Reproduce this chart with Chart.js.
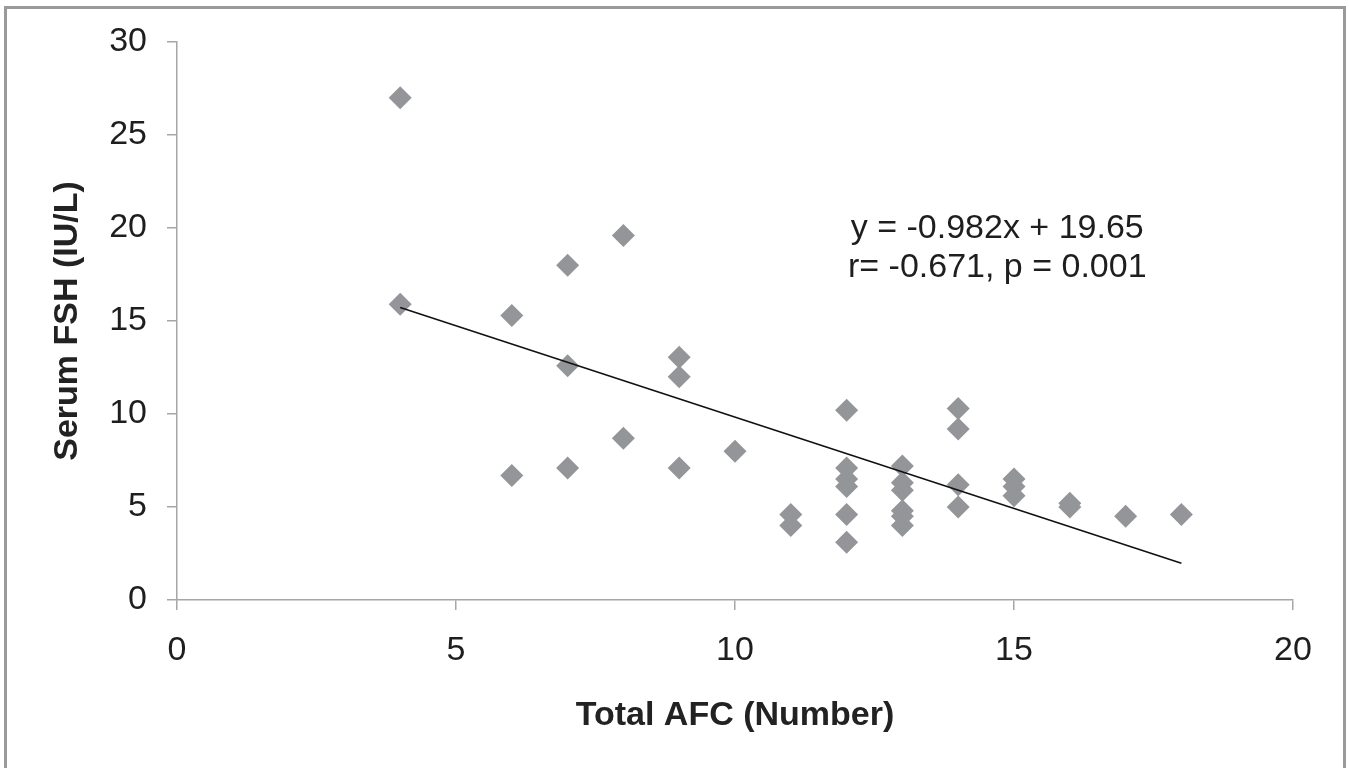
<!DOCTYPE html>
<html lang="en">

<head>
    <meta charset="UTF-8">
    <title>Serum FSH vs Total AFC</title>
    <script src="https://cdn.jsdelivr.net/npm/chart.js@4.4.1/dist/chart.umd.min.js"></script>
    <style>
        body {
            margin: 0;
            background: #fff;
        }
    </style>
</head>

<body>
    <canvas id="afcChart" width="1349" height="768"></canvas>
    <script>
        const afcValues = [4, 4, 6, 6, 7, 7, 7, 8, 8, 9, 9, 9, 10, 11, 11,
            12, 12, 12, 12, 12, 12, 13, 13, 13, 13, 13, 13,
            14, 14, 14, 14, 15, 15, 15, 16, 16, 17, 18];
        const fshValues = [27.0, 15.9, 15.3, 6.7, 18.0, 12.6, 7.1, 19.6, 8.7, 13.05, 12.0, 7.1, 8.0, 4.6, 4.0,
            10.2, 7.1, 6.5, 6.1, 4.6, 3.1, 7.2, 6.3, 5.9, 4.8, 4.5, 4.0,
            10.3, 9.2, 6.2, 5.0, 6.5, 6.1, 5.6, 5.2, 5.0, 4.5, 4.6];

        // Regression line end points (y = -0.982x + 19.65)
        const trendX = [4, 18];
        const trendY = [15.72, 1.97];

        const xTicks = [0, 5, 10, 15, 20];
        const yTicks = [0, 5, 10, 15, 20, 25, 30];

        const statsText = ['y = -0.982x + 19.65', 'r= -0.671, p = 0.001'];
        const statsAt = { x: 14.7, y: [19.95, 17.85] };

        const axisGray = '#a6a6a6';
        const textColor = '#1e1e1e';
        const fontFamily = '"Liberation Sans", Arial, sans-serif';

        // Grey outer frame plus the regression label
        const extras = {
            id: 'extras',
            beforeDraw(chart) {
                const ctx = chart.ctx;
                ctx.save();
                ctx.strokeStyle = '#9a9a9a';
                ctx.lineWidth = 3;
                ctx.strokeRect(5.5, 7.5, 1339, 800);
                ctx.restore();
            },
            afterDatasetsDraw(chart) {
                const ctx = chart.ctx;
                const x = chart.scales.x.getPixelForValue(statsAt.x);
                ctx.save();
                ctx.font = '34px ' + fontFamily;
                ctx.fillStyle = textColor;
                ctx.textAlign = 'center';
                ctx.textBaseline = 'middle';
                statsText.forEach((line, i) => {
                    ctx.fillText(line, x, chart.scales.y.getPixelForValue(statsAt.y[i]));
                });
                ctx.restore();
            }
        };

        const config = {
            type: 'scatter',
            data: {
                datasets: [
                    {
                        label: 'Trend',
                        type: 'line',
                        data: trendX.map((x, i) => ({ x: x, y: trendY[i] })),
                        borderColor: '#111',
                        borderWidth: 1.6,
                        pointRadius: 0,
                        fill: false,
                        order: 0
                    },
                    {
                        label: 'Serum FSH',
                        data: afcValues.map((x, i) => ({ x: x, y: fshValues[i] })),
                        pointStyle: 'rectRot',
                        pointRadius: 11.5,
                        pointBackgroundColor: 'rgb(148, 149, 153)',
                        pointBorderWidth: 0,
                        order: 1
                    }
                ]
            },
            options: {
                responsive: false,
                animation: false,
                layout: {
                    padding: { top: 42, right: 56, bottom: 0, left: 0 }
                },
                plugins: {
                    legend: { display: false },
                    tooltip: { enabled: false }
                },
                scales: {
                    x: {
                        type: 'linear',
                        min: 0,
                        max: 20,
                        afterBuildTicks: scale => {
                            scale.ticks = xTicks.map(v => ({ value: v }));
                        },
                        afterFit: scale => {
                            scale.height = 168;
                        },
                        grid: {
                            drawOnChartArea: false,
                            color: axisGray,
                            lineWidth: 1.5,
                            tickLength: 10
                        },
                        border: { color: axisGray, width: 1.5 },
                        ticks: {
                            padding: 20,
                            color: textColor,
                            font: { family: fontFamily, size: 34 }
                        },
                        title: {
                            display: true,
                            text: 'Total AFC (Number)',
                            color: '#222',
                            padding: { top: 0, bottom: 32 },
                            font: { family: fontFamily, size: 34, weight: 'bold' }
                        }
                    },
                    y: {
                        min: 0,
                        max: 30,
                        afterBuildTicks: scale => {
                            scale.ticks = yTicks.map(v => ({ value: v }));
                        },
                        afterFit: scale => {
                            scale.width = 177;
                        },
                        grid: {
                            drawOnChartArea: false,
                            color: axisGray,
                            lineWidth: 1.5,
                            tickLength: 10
                        },
                        border: { color: axisGray, width: 1.5 },
                        ticks: {
                            padding: 20,
                            color: textColor,
                            font: { family: fontFamily, size: 34 }
                        },
                        title: {
                            display: true,
                            text: 'Serum FSH (IU/L)',
                            color: '#222',
                            padding: { top: 47, bottom: 0 },
                            font: { family: fontFamily, size: 34, weight: 'bold' }
                        }
                    }
                }
            },
            plugins: [extras]
        };

        const ctx = document.getElementById('afcChart').getContext('2d');
        const afcChart = new Chart(ctx, config);
    </script>
</body>

</html>
